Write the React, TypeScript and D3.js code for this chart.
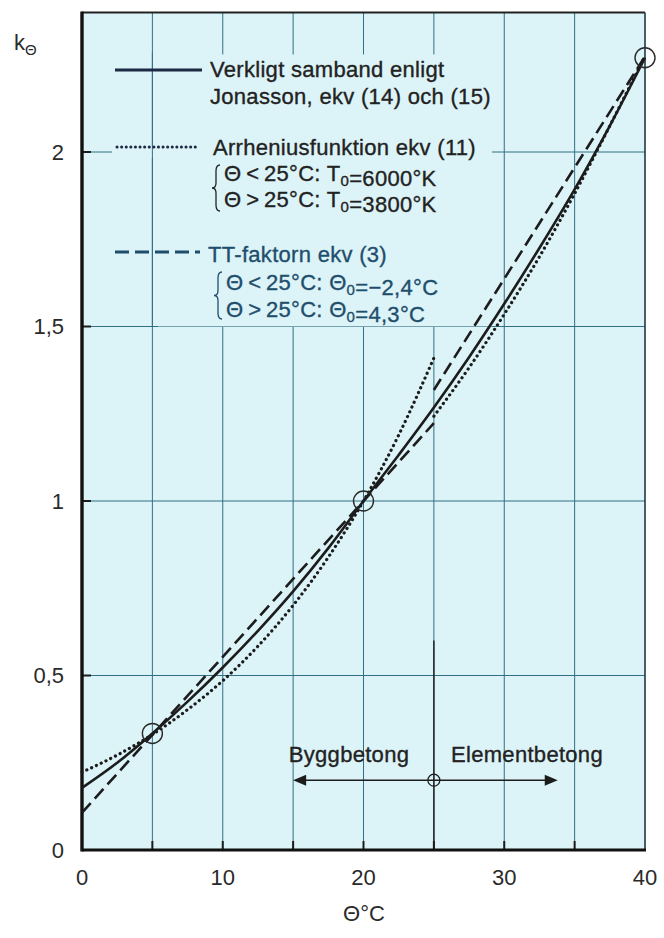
import React from "react";
import * as d3 from "d3";

// ---------- data ----------
const X_TICKS = [0, 10, 20, 30, 40];
const Y_TICKS = [0, 0.5, 1, 1.5, 2];
const Y_TICK_LABELS = ["0", "0,5", "1", "1,5", "2"];
const GRID_X = [5, 10, 15, 20, 25, 30, 35];
const GRID_Y = [0.5, 1, 1.5, 2];

// Verkligt samband (solid)
const verkligtX = [0, 2.5, 5, 7.5, 10, 12.5, 15, 17.5, 20, 22.5, 25, 27.5, 30, 32.5, 35, 37.5, 40];
const verkligtY = [0.178, 0.25, 0.334, 0.425, 0.523, 0.628, 0.741, 0.865, 1.0, 1.132, 1.268, 1.412, 1.565, 1.725, 1.893, 2.075, 2.27];

// Arrhenius (dotted), two pieces
const arrLowX = [0, 2.5, 5, 7.5, 10, 12.5, 15, 17.5, 20, 22.5, 25];
const arrLowY = [0.223, 0.272, 0.331, 0.402, 0.485, 0.584, 0.701, 0.839, 1.0, 1.189, 1.41];
const arrHighX = [25, 27.5, 30, 32.5, 35, 37.5, 40];
const arrHighY = [1.243, 1.382, 1.535, 1.7, 1.881, 2.075, 2.275];

// TT-faktorn (dashed), two pieces
const ttLowX = [0, 25];
const ttLowY = [0.107, 1.223];
const ttHighX = [25, 40];
const ttHighY = [1.318, 2.274];

// marked points
const circleX = [5, 20, 40];
const circleY = [0.334, 1.0, 2.27];

// ---------- layout ----------
const W = 664;
const H = 938;
const x = d3.scaleLinear().domain([0, 40]).range([82, 645]);
const y = d3.scaleLinear().domain([0, 2.4]).range([850, 12.4]);

const BG = "#dcf3f7";
const GRID = "#336f84";
const FONT = "'Liberation Sans', Arial, Helvetica, sans-serif";
const DARK = "#1c1c1c";
const TXT = "#222";
const TEAL = "#1f4e6d";

function pts(xs: number[], ys: number[]): [number, number][] {
  return xs.map((v, i) => [v, ys[i]] as [number, number]);
}
const line = d3
  .line<[number, number]>()
  .x((d) => x(d[0]))
  .y((d) => y(d[1]))
  .curve(d3.curveMonotoneX);

function brace(bx: number, y1: number, y2: number) {
  const ym = (y1 + y2) / 2;
  return `M${bx + 4},${y1} Q${bx},${y1} ${bx},${y1 + 6} L${bx},${ym - 5} Q${bx},${ym} ${bx - 4},${ym} Q${bx},${ym} ${bx},${ym + 5} L${bx},${y2 - 6} Q${bx},${y2} ${bx + 4},${y2}`;
}

const Sub = ({ t }: { t: string }) => (
  <>
    <tspan dy={5} fontSize={15}>{t}</tspan>
    <tspan dy={-5}>{""}</tspan>
  </>
);

export default function App() {
  const x0 = x(0);
  const x40 = x(40);
  const y0 = y(0);
  const yTop = y(2.4);
  const solidStyle = { fill: "none", stroke: DARK, strokeWidth: 2.6 };
  const dotStyle = {
    fill: "none",
    stroke: DARK,
    strokeWidth: 3.2,
    strokeLinecap: "round" as const,
    strokeDasharray: "0.1 5.2",
  };
  const dashStyle = {
    fill: "none",
    stroke: DARK,
    strokeWidth: 2.6,
    strokeDasharray: "13 6",
  };
  const arrowY = y(0.2);
  const ax1 = x(15);
  const ax2 = x(33.8);
  const lg = { fontSize: 22, letterSpacing: 0.3, strokeWidth: 0.35 };

  return (
    <svg
      width={W}
      height={H}
      style={{ position: "absolute", left: 0, top: 0, background: "#fff" }}
      fontFamily={FONT}
    >
      {/* plot background */}
      <rect x={x0} y={yTop} width={x40 - x0} height={y0 - yTop} fill={BG} />

      {/* grid */}
      {GRID_X.map((v) => (
        <line key={"gx" + v} x1={x(v)} x2={x(v)} y1={yTop} y2={y0} stroke={GRID} strokeWidth={1} />
      ))}
      {GRID_Y.map((v) => (
        <line key={"gy" + v} x1={x0} x2={x40} y1={y(v)} y2={y(v)} stroke={GRID} strokeWidth={1} />
      ))}

      {/* legend mask */}
      <rect x={158} y={yTop + 42} width={334} height={272} fill={BG} />
      <rect x={112} y={y(2) - 6} width={50} height={12} fill={BG} />
      <line x1={x(5)} x2={x(5)} y1={yTop + 40} y2={y(1.5)} stroke={GRID} strokeWidth={1} />

      {/* dark marker line at 25 */}
      <line x1={x(25)} x2={x(25)} y1={y0} y2={y(0.6)} stroke={DARK} strokeWidth={1.4} />

      {/* ticks */}
      {Y_TICKS.map((v) => (
        <line key={"ty" + v} x1={x0} x2={x0 + 9} y1={y(v)} y2={y(v)} stroke={DARK} strokeWidth={2} />
      ))}
      {[5, 10, 15, 20, 25, 30, 35].map((v) => (
        <line key={"tx" + v} x1={x(v)} x2={x(v)} y1={y0} y2={y0 - 9} stroke={DARK} strokeWidth={2} />
      ))}

      {/* frame */}
      <line x1={x0} x2={x40} y1={yTop} y2={yTop} stroke="#222" strokeWidth={2} />
      <line x1={x40} x2={x40} y1={yTop} y2={y0} stroke="#1d3a48" strokeWidth={1.6} />
      <line x1={x0} x2={x40 + 1} y1={y0} y2={y0} stroke="#111" strokeWidth={3.2} />
      <line x1={x0} x2={x0} y1={yTop - 1} y2={y0 + 1.5} stroke="#111" strokeWidth={3.4} />

      {/* curves */}
      <path d={line(pts(ttLowX, ttLowY)) || ""} style={dashStyle} />
      <path d={line(pts(ttHighX, ttHighY)) || ""} style={dashStyle} />
      <path d={line(pts(arrLowX, arrLowY)) || ""} style={dotStyle} />
      <path d={line(pts(arrHighX, arrHighY)) || ""} style={dotStyle} />
      <path d={line(pts(verkligtX, verkligtY)) || ""} style={solidStyle} />

      {/* circles */}
      {circleX.map((v, i) => (
        <circle key={"c" + v} cx={x(v)} cy={y(circleY[i])} r={10} fill="none" stroke="#2a2a2a" strokeWidth={1.4} />
      ))}

      {/* Bygg / Element arrow */}
      <line x1={ax1 + 8} x2={ax2 - 8} y1={arrowY} y2={arrowY} stroke={DARK} strokeWidth={1.6} />
      <path d={`M${ax1},${arrowY} L${ax1 + 13},${arrowY - 5.5} L${ax1 + 13},${arrowY + 5.5} Z`} fill={DARK} />
      <path d={`M${ax2},${arrowY} L${ax2 - 13},${arrowY - 5.5} L${ax2 - 13},${arrowY + 5.5} Z`} fill={DARK} />
      <circle cx={x(25)} cy={arrowY} r={6} fill="none" stroke={DARK} strokeWidth={1.2} />
      <text x={349} y={762} {...lg} fill={TXT} stroke={TXT} textAnchor="middle">Byggbetong</text>
      <text x={527} y={762} {...lg} fill={TXT} stroke={TXT} textAnchor="middle">Elementbetong</text>

      {/* legend */}
      <line x1={115} x2={202} y1={70} y2={70} stroke="#1d2a44" strokeWidth={3} />
      <text x={210} y={77} {...lg} fill={TXT} stroke={TXT}>Verkligt samband enligt</text>
      <text x={210} y={104} {...lg} fill={TXT} stroke={TXT}>Jonasson, ekv (14) och (15)</text>

      <line x1={117} x2={198} y1={147} y2={147} stroke="#1d2a44" strokeWidth={3} strokeLinecap="round" strokeDasharray="0.1 4.5" />
      <text x={213} y={155} {...lg} fill={TXT} stroke={TXT}>Arrheniusfunktion ekv (11)</text>
      <path d={brace(216, 165, 211)} fill="none" stroke={TXT} strokeWidth={1.3} />
      <text x={224} y={181} {...lg} fill={TXT} stroke={TXT}>
        Θ{"\u2009"}&lt;{"\u2009"}25°C: T<Sub t="0" />=6000°K
      </text>
      <text x={224} y={207} {...lg} fill={TXT} stroke={TXT}>
        Θ{"\u2009"}&gt;{"\u2009"}25°C: T<Sub t="0" />=3800°K
      </text>

      <line x1={115} x2={200} y1={252} y2={252} stroke={TEAL} strokeWidth={3} strokeDasharray="14 6" />
      <text x={208} y={262} {...lg} fill={TEAL} stroke={TEAL}>TT-faktorn ekv (3)</text>
      <path d={brace(218, 272, 319)} fill="none" stroke={TEAL} strokeWidth={1.3} />
      <text x={226} y={290} {...lg} fill={TEAL} stroke={TEAL}>
        Θ{"\u2009"}&lt;{"\u2009"}25°C: Θ<Sub t="0" />=−2,4°C
      </text>
      <text x={226} y={317} {...lg} fill={TEAL} stroke={TEAL}>
        Θ{"\u2009"}&gt;{"\u2009"}25°C: Θ<Sub t="0" />=4,3°C
      </text>

      {/* axis tick labels */}
      {Y_TICKS.map((v, i) => (
        <text key={"yl" + v} x={64} y={y(v) + 7.5} fontSize={22} textAnchor="end" fill="#2a2a2a">
          {Y_TICK_LABELS[i]}
        </text>
      ))}
      {X_TICKS.map((v) => (
        <text key={"xl" + v} x={x(v)} y={885} fontSize={22} textAnchor="middle" fill="#2a2a2a">
          {String(v)}
        </text>
      ))}

      {/* axis titles */}
      <text x={14} y={50} fontSize={22} fill="#2a2a2a">
        k<Sub t="Θ" />
      </text>
      <text x={364} y={921} fontSize={22} textAnchor="middle" fill="#2a2a2a">Θ°C</text>
    </svg>
  );
}
